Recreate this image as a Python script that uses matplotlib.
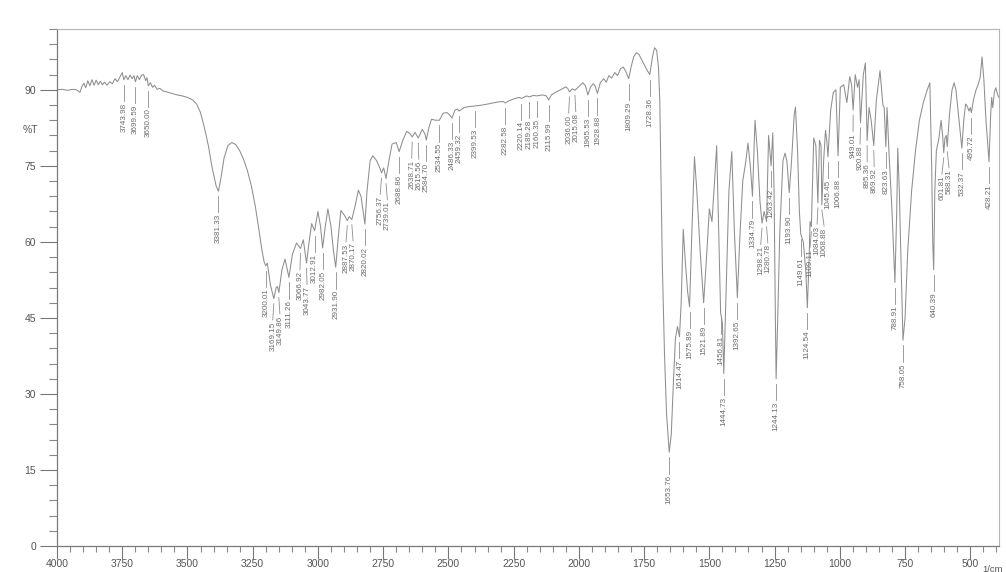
import numpy as np
import matplotlib
matplotlib.use("Agg")
import matplotlib.pyplot as plt
from matplotlib.ticker import MultipleLocator

# ---------------- data ----------------
wavenumber = [
    4000, 3980, 3960, 3940, 3925, 3912, 3905, 3897, 3890, 3882, 3874, 3866, 3858, 3850,
    3842, 3834, 3826, 3818, 3808, 3798, 3788, 3778, 3768, 3758, 3750, 3743.98, 3736, 3728,
    3720, 3712, 3705, 3699.59, 3692, 3684, 3676, 3668, 3660, 3655, 3650.00, 3642, 3634, 3626,
    3616, 3606, 3595, 3580, 3560, 3540, 3520, 3500, 3480, 3465, 3450, 3435, 3420, 3405,
    3390, 3381.33, 3372, 3360, 3345, 3330, 3315, 3300, 3285, 3270, 3255, 3240, 3228, 3215,
    3206, 3200.01, 3194, 3182, 3169.15, 3160, 3155, 3149.86, 3138, 3126, 3111.26, 3098, 3082,
    3066.92, 3056, 3043.77, 3034, 3024, 3012.91, 3000, 2990, 2982.05, 2972, 2962, 2950, 2940,
    2931.90, 2922, 2912, 2898, 2887.53, 2880, 2870.17, 2858, 2845, 2835, 2820.02, 2812, 2800,
    2790, 2775, 2762, 2756.37, 2748, 2739.01, 2728, 2716, 2700, 2688.86, 2675, 2660, 2648,
    2638.71, 2628, 2615.56, 2600, 2590, 2584.70, 2575, 2565, 2550, 2534.55, 2520, 2505, 2495,
    2486.33, 2475, 2465, 2459.32, 2440, 2420, 2399.53, 2370, 2340, 2310, 2290, 2282.58, 2270,
    2250, 2230, 2220.14, 2200, 2189.28, 2175, 2160.35, 2140, 2125, 2115.99, 2105, 2090, 2075,
    2060, 2050, 2042, 2036.00, 2025, 2015.08, 2005, 1995, 1985, 1975, 1965.53, 1955, 1945,
    1938, 1928.88, 1918, 1905, 1895, 1885, 1875, 1862, 1852, 1840, 1830, 1820, 1809.29, 1800,
    1790, 1780, 1770, 1755, 1740, 1728.36, 1718, 1710, 1702, 1695, 1690, 1685, 1680, 1672,
    1664, 1653.76, 1646, 1638, 1630, 1622, 1614.47, 1608, 1600, 1592, 1583, 1575.89, 1567,
    1557, 1548, 1535, 1521.89, 1512, 1500, 1490, 1480, 1472, 1464, 1456.81, 1450, 1444.73,
    1435, 1425, 1414, 1404, 1392.65, 1384, 1372, 1360, 1352, 1343, 1334.79, 1325, 1316, 1306,
    1298.21, 1290, 1280.78, 1273, 1268, 1263.42, 1257, 1252, 1247, 1244.13, 1238, 1230, 1218,
    1210, 1203, 1193.90, 1185, 1175, 1170, 1162, 1155, 1149.61, 1140, 1130, 1124.54, 1118,
    1114, 1109.11, 1100, 1092, 1084.03, 1078, 1072, 1068.88, 1062, 1055, 1050, 1045.45, 1035,
    1025, 1015, 1006.88, 998, 985, 973, 962, 955, 949.01, 941, 932, 926, 920.88, 910, 902,
    895.36, 888, 880, 869.92, 860, 846, 835, 830, 823.63, 819, 812, 800, 788.91, 782, 778,
    772, 765, 758.05, 750, 740, 725, 710, 695, 680, 665, 655, 648, 644, 640.39, 636, 630, 620,
    612, 606, 601.81, 597, 592, 588.31, 580, 570, 562, 555, 545, 532.37, 525, 518, 512, 505,
    500, 495.72, 488, 478, 470, 462, 455, 448, 440, 428.21, 422, 418, 414, 408, 402, 395, 390,
]
transmittance = [
    90.0, 90.1, 89.9, 90.1, 90.0, 89.5, 90.6, 91.3, 90.4, 91.8, 90.8, 92.0, 90.9, 91.9,
    91.0, 91.7, 91.0, 91.5, 90.9, 91.6, 91.2, 92.2, 91.6, 92.6, 93.4, 92.0, 92.8, 92.0,
    92.9, 92.2, 92.8, 91.6, 92.8, 92.0, 92.9, 93.0, 91.8, 92.4, 90.8, 91.4, 90.5, 90.9,
    90.1, 90.3, 89.8, 89.6, 89.3, 89.0, 88.8, 88.5, 88.0, 87.2, 85.5, 82.5, 79.0, 74.5,
    71.0, 70.0, 72.5, 76.5, 79.0, 79.6, 79.2, 78.0, 76.3, 74.0, 71.0, 67.0, 63.0, 58.5,
    56.0, 55.3, 55.8, 51.5, 48.8, 51.0, 51.2, 50.0, 54.5, 56.6, 53.0, 57.5, 59.8,
    58.7, 60.4, 55.8, 60.0, 63.6, 62.2, 66.0, 63.0, 58.8, 63.0, 66.5, 63.0, 58.0,
    55.0, 61.0, 66.2, 65.2, 64.2, 65.0, 64.4, 67.0, 70.2, 69.0, 63.5, 70.0, 76.0,
    77.0, 76.0, 74.5, 73.6, 74.6, 72.5, 76.0, 79.3, 79.6, 77.8, 80.0, 81.8, 81.4,
    80.7, 81.6, 80.5, 82.2, 81.3, 80.1, 82.5, 84.2, 84.0, 84.0, 85.4, 85.5, 85.0,
    84.4, 86.0, 86.2, 85.8, 86.5, 86.7, 86.8, 87.0, 87.3, 87.6, 87.7, 87.4, 87.8,
    88.2, 88.5, 88.3, 88.8, 88.6, 88.9, 88.8, 89.0, 88.8, 88.0, 89.0, 89.5, 89.9,
    90.3, 90.6, 90.2, 89.6, 90.2, 89.9, 90.4, 90.9, 91.4, 90.8, 89.0, 90.6, 91.2,
    90.8, 89.3, 91.4, 92.2, 91.5, 92.8, 92.3, 93.4, 92.8, 94.2, 94.5, 93.6, 92.2, 94.5,
    96.5, 97.3, 97.0, 95.5, 94.0, 93.0, 96.5, 98.3, 97.8, 94.5, 88.0, 72.0, 55.0, 38.0,
    26.0, 18.5, 22.0, 32.0, 41.0, 43.3, 41.3, 48.0, 62.5, 56.0, 50.0, 47.2, 62.0,
    76.8, 70.0, 58.0, 48.0, 56.0, 66.5, 64.0, 72.0, 79.0, 62.0, 46.0, 44.0, 34.0,
    52.0, 70.0, 77.8, 62.0, 49.0, 60.0, 72.0, 76.0, 79.5, 75.0, 69.0, 84.0, 78.0, 68.0,
    63.7, 66.0, 64.0, 81.0, 78.0, 75.0, 81.5, 70.0, 45.0, 33.0, 45.0, 62.0, 76.0,
    77.5, 76.0, 69.7, 76.0, 85.0, 86.6, 78.0, 66.0, 61.5, 60.0, 54.0, 47.0, 56.0,
    64.0, 63.0, 80.5, 79.0, 67.7, 80.0, 79.0, 67.3, 76.0, 82.0, 80.0, 76.8, 86.0,
    89.5, 90.0, 77.0, 90.5, 91.0, 87.5, 92.6, 91.0, 86.0, 93.0, 90.5, 92.0, 83.5, 93.0, 95.3,
    80.0, 86.5, 84.0, 79.0, 88.0, 93.8, 87.0, 86.5, 78.8, 86.5, 78.0, 66.0, 52.0, 66.0, 78.5,
    70.0, 55.0, 40.6, 45.0, 58.0, 70.0, 78.0, 84.0, 87.5, 90.0, 91.4, 75.0, 60.0, 54.5, 70.0, 78.0, 80.5,
    84.0, 81.0, 77.6, 80.5, 81.0, 78.8, 85.0, 90.0, 91.4, 90.0, 85.0, 78.5, 84.0, 87.2, 86.8, 85.8,
    86.5, 85.5, 88.0, 90.0, 91.0, 92.5, 96.5, 92.0, 84.0, 75.8, 85.0, 88.5, 86.5, 89.5, 90.4, 89.0, 88.5,
]
peak_wn = [
    3743.98, 3699.59, 3650.00, 3381.33, 3200.01, 3169.15, 3149.86, 3111.26, 3066.92, 3043.77,
    3012.91, 2982.05, 2931.90, 2887.53, 2870.17, 2820.02, 2756.37, 2739.01, 2688.86, 2638.71,
    2615.56, 2584.70, 2534.55, 2486.33, 2459.32, 2399.53, 2282.58, 2220.14, 2189.28, 2160.35,
    2115.99, 2036.00, 2015.08, 1965.53, 1928.88, 1809.29, 1728.36, 1653.76, 1614.47, 1575.89,
    1521.89, 1456.81, 1444.73, 1392.65, 1334.79, 1298.21, 1280.78, 1263.42, 1244.13, 1193.90,
    1149.61, 1124.54, 1109.11, 1084.03, 1068.88, 1045.45, 1006.88, 949.01, 920.88, 895.36,
    869.92, 823.63, 788.91, 758.05, 640.39, 601.81, 588.31, 532.37, 495.72, 428.21,
]
x_major = [4000, 3750, 3500, 3250, 3000, 2750, 2500, 2250, 2000, 1750, 1500, 1250, 1000, 750, 500]
y_major = [0, 15, 30, 45, 60, 75, 90]

# ---------------- figure ----------------
plt.rcParams["font.family"] = ["Liberation Sans", "DejaVu Sans"]
W, H = 1006, 572
fig = plt.figure(figsize=(W / 100, H / 100), dpi=100)
fig.patch.set_facecolor("white")
left, right, top, bottom = 57, 999, 29, 546
ax = fig.add_axes([left / W, 1 - bottom / H, (right - left) / W, (bottom - top) / H])
XMAX, XMIN, YMIN, YMAX = 4000, 390, 0, 102
ax.set_xlim(XMAX, XMIN)
ax.set_ylim(YMIN, YMAX)

line_col = "#8e8e8e"
txt_col = "#6b6b6b"
ax.plot(wavenumber, transmittance, color=line_col, lw=0.75)

# ticks
ax.set_xticks(x_major)
ax.set_xticklabels([str(v) for v in x_major])
ax.xaxis.set_minor_locator(MultipleLocator(50))
ax.set_yticks(y_major)
ax.set_yticklabels([str(v) for v in y_major])
ax.yaxis.set_minor_locator(MultipleLocator(3))
ax.tick_params(axis="y", which="major", length=12, width=0.8, color="#777777",
               labelsize=7.5, labelcolor="#555555", pad=3)
ax.tick_params(axis="y", which="minor", length=6, width=0.8, color="#888888")
ax.tick_params(axis="x", which="major", length=9, width=0.8, color="#777777",
               labelsize=7.5, labelcolor="#555555", pad=0.5)
ax.tick_params(axis="x", which="minor", length=4, width=0.8, color="#888888")
for s in ["left", "bottom"]:
    ax.spines[s].set_color("#7a7a7a")
    ax.spines[s].set_linewidth(0.9)
for s in ["top", "right"]:
    ax.spines[s].set_color("#b5b5b5")
    ax.spines[s].set_linewidth(0.8)

fig.text(23 / W, 1 - 130 / H, "%T", fontsize=7.5, color="#555555", va="center", ha="left")
fig.text(993 / W, 1 - 569 / H, "1/cm", fontsize=6.8, color="#555555", va="center", ha="center")

# ---------------- peak labels ----------------
px_per_wn = (right - left) / (XMAX - XMIN)
px_per_T = (bottom - top) / (YMAX - YMIN)
wn_rev = np.array(wavenumber[::-1], dtype=float)
t_rev = np.array(transmittance[::-1], dtype=float)
valley_T = np.interp(peak_wn, wn_rev, t_rev)

gap_top = 1.0          # T units below valley where the connector starts
conn_len = 3.2         # T units of connector
text_len_px = 31.0     # approx. vertical length of a rotated label
min_dx_px = 7.0

xs = np.array([(XMAX - w) * px_per_wn for w in peak_wn])  # pixel x from left
ytop = np.array([(YMAX - (t - gap_top - conn_len)) * px_per_T for t in valley_T])
ybot = ytop + text_len_px
lx = xs.copy()
for _ in range(300):
    moved = False
    for i in range(len(lx)):
        for j in range(i + 1, len(lx)):
            if ybot[i] < ytop[j] or ybot[j] < ytop[i]:
                continue
            d = lx[j] - lx[i]
            if abs(d) < min_dx_px:
                push = (min_dx_px - abs(d)) / 2 + 0.05
                sgn = 1 if d >= 0 else -1
                lx[i] -= sgn * push
                lx[j] += sgn * push
                moved = True
    if not moved:
        break

for w, t, x_l in zip(peak_wn, valley_T, lx):
    wl = XMAX - x_l / px_per_wn
    y0 = t - gap_top
    y1 = t - gap_top - conn_len
    ax.plot([w, wl], [y0, y1], color=line_col, lw=0.6)
    ax.text(wl, y1 - 0.3, f"{w:.2f}", rotation=90, ha="center", va="top",
            fontsize=5.8, color=txt_col)

fig.savefig("out.png", dpi=100, facecolor="white")
